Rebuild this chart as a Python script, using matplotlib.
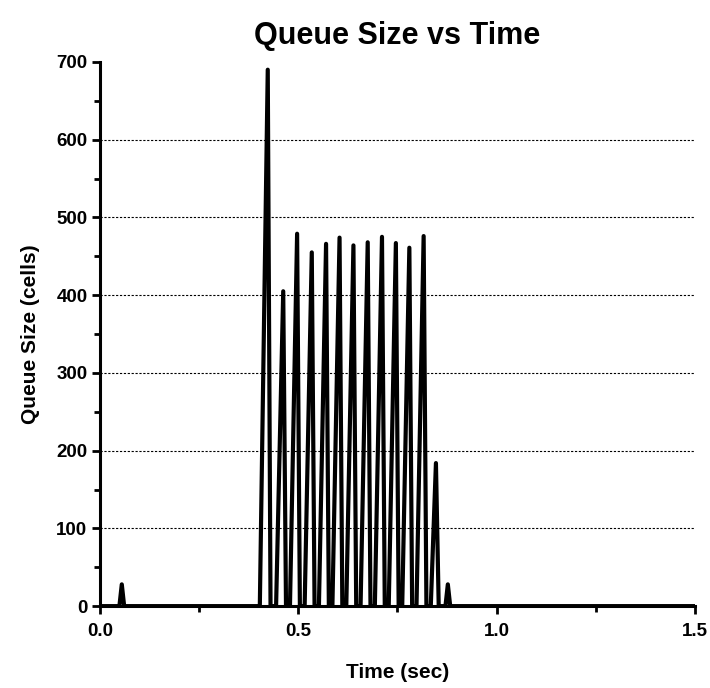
import matplotlib
matplotlib.use("Agg")
import matplotlib.pyplot as plt
from matplotlib.ticker import MultipleLocator

plt.rcParams['font.family'] = ['Liberation Sans Narrow', 'Liberation Sans', 'DejaVu Sans']
plt.rcParams['font.weight'] = 'bold'

# queue trace vertices (time in s, queue in cells)
time = [0.0, 0.049, 0.055, 0.061,
        0.403, 0.423, 0.430,
        0.444, 0.462, 0.469,
        0.479, 0.497, 0.504,
        0.516, 0.534, 0.541,
        0.552, 0.570, 0.577,
        0.586, 0.604, 0.611,
        0.621, 0.639, 0.646,
        0.657, 0.675, 0.682,
        0.693, 0.711, 0.718,
        0.728, 0.746, 0.753,
        0.762, 0.780, 0.787,
        0.798, 0.816, 0.823,
        0.834, 0.847, 0.854,
        0.871, 0.877, 0.883,
        1.5]
queue = [0, 0, 28, 0,
         0, 690, 0,
         0, 405, 0,
         0, 479, 0,
         0, 455, 0,
         0, 466, 0,
         0, 474, 0,
         0, 464, 0,
         0, 468, 0,
         0, 475, 0,
         0, 467, 0,
         0, 461, 0,
         0, 476, 0,
         0, 184, 0,
         0, 28, 0,
         0]

x_ticks = [0.0, 0.5, 1.0, 1.5]
x_labels = ['0.0', '0.5', '1.0', '1.5']
y_ticks = [0, 100, 200, 300, 400, 500, 600, 700]
grid_levels = [100, 200, 300, 400, 500, 600]

fig = plt.figure(figsize=(7.10, 6.88), dpi=100)
ax = fig.add_axes([0.1408, 0.119, 0.838, 0.791])

for g in grid_levels:
    ax.axhline(g, color='black', lw=0.8, ls=(0, (2, 1.5)), zorder=1)

ax.plot(time, queue, color='black', lw=3.0, solid_joinstyle='round', zorder=3)

ax.set_xlim(0, 1.5)
ax.set_ylim(0, 700)
ax.set_xticks(x_ticks)
ax.set_xticklabels(x_labels)
ax.set_yticks(y_ticks)
ax.xaxis.set_minor_locator(MultipleLocator(0.25))
ax.yaxis.set_minor_locator(MultipleLocator(50))

for s in ['top', 'right']:
    ax.spines[s].set_visible(False)
for s in ['left', 'bottom']:
    ax.spines[s].set_linewidth(2.2)

ax.tick_params(which='major', direction='out', length=6, width=2, labelsize=13.5, pad=3)
ax.tick_params(which='minor', direction='out', length=4, width=2)
ax.tick_params(axis='x', pad=6)

ax.set_title('Queue Size vs Time', fontsize=22, fontweight='bold', pad=13)
ax.set_xlabel('Time (sec)', fontsize=15, fontweight='bold', labelpad=17)
ax.set_ylabel('Queue Size (cells)', fontsize=15, fontweight='bold', labelpad=12)

fig.savefig('out.png', dpi=100)
